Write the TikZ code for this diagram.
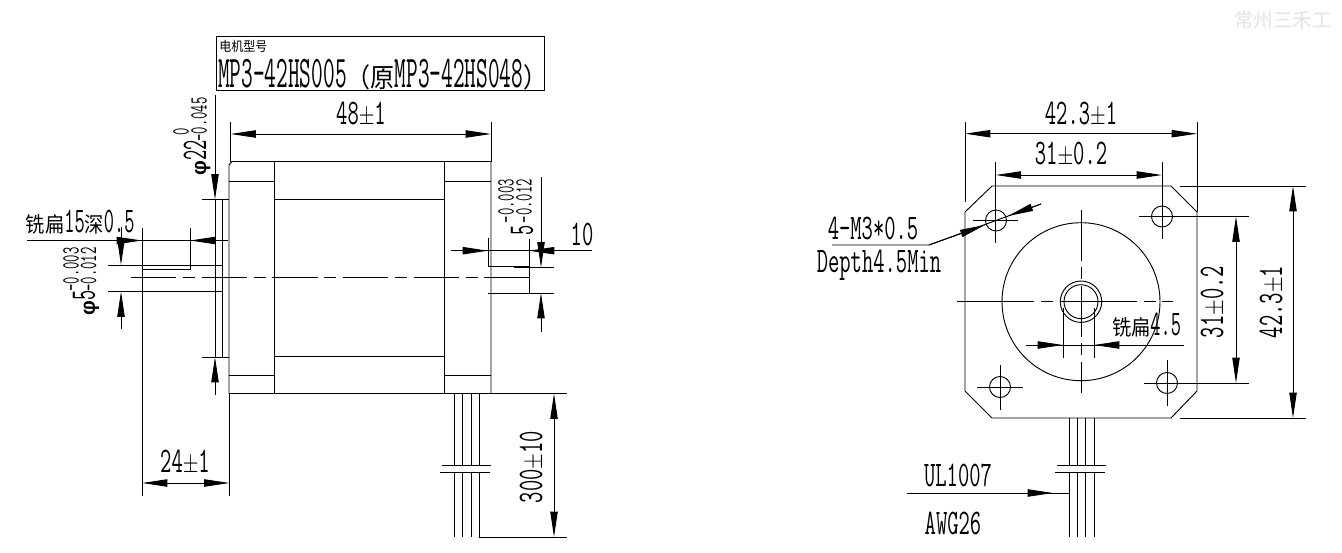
\documentclass[tikz,border=0pt]{standalone}
\usepackage{fontspec}
\usepackage{graphicx}
\usetikzlibrary{arrows.meta}
\newfontfamily\cad[FakeStretch=.61]{Latin Modern Mono}
\newfontfamily\cadn[FakeStretch=.55]{Latin Modern Mono}
\newfontfamily\cadt[FakeStretch=.5]{Latin Modern Mono}
\newfontfamily\cads[FakeStretch=.58]{Latin Modern Mono}
\newfontfamily\cjk[FakeStretch=.9]{Noto Sans CJK SC}
\newfontfamily\wm{Noto Sans CJK SC}
\newfontfamily\ph{Liberation Sans}
\newcommand{\pmm}{\scalebox{1.05}[1.4]{\fontsize{15}{15}\selectfont$\pm$}}
\newcommand{\phs}{{\ph\bfseries\fontsize{15.5}{15.5}\selectfont φ}}
\tikzset{
  ln/.style={line width=.7pt,line cap=butt},
  ctr/.style={ln,dash pattern=on 34pt off 5pt on 9pt off 5pt},
  dm/.style={ln,{Triangle[length=19pt,width=5.5pt]}-{Triangle[length=19pt,width=5.5pt]}},
  dmr/.style={ln,-{Triangle[length=19pt,width=5.5pt]}},
  txt/.style={inner sep=0pt,outer sep=0pt,font=\cad\fontsize{27}{27}\selectfont},
  nar/.style={inner sep=0pt,outer sep=0pt,font=\cadn\fontsize{27}{27}\selectfont},
  sm/.style={inner sep=0pt,outer sep=0pt,font=\cads\fontsize{18.5}{18.5}\selectfont},
  zh/.style={inner sep=0pt,outer sep=0pt,anchor=west,font=\cjk\fontsize{16}{16}\selectfont},
}
\begin{document}
\begin{tikzpicture}[x=.75pt,y=-.75pt]
\useasboundingbox (0,0) rectangle (1342,553);
% watermark
\node[inner sep=0pt,text=black!11,font=\wm\fontsize{14.7}{15}\selectfont] (wm) at (1283,20) {常州三禾工};
% title box
\draw[ln] (216,36) rectangle (544,90);
\node[inner sep=0pt,anchor=west,font=\cjk\fontsize{10}{10}\selectfont] (tA) at (219,46) {电机型号};
\node[inner sep=0pt,anchor=west,font=\cadt\fontsize{34}{34}\selectfont] (tB) at (218,75) {MP3-42HS005{\cjk\fontsize{20}{20}\selectfont（原}MP3-42HS048{\cjk\fontsize{20}{20}\selectfont）}};
% left view body
\draw[ln] (229,165) -- (232,161.5) -- (491,161.5) -- (491,393.5) -- (229,393.5) -- cycle;
\draw[ln] (274.5,161.5)--(274.5,393.5) (444,161.5)--(444,393.5);
\draw[ln] (229,181)--(274.5,181) (444,181)--(491,181) (274.5,199)--(444,199)
  (274.5,356)--(444,356) (229,375)--(274.5,375) (444,375)--(491,375);
\draw[ln] (229,199.5)--(222.5,199.5)--(222.5,357)--(229,357);
\draw[ln] (202,199.5)--(222.5,199.5) (202,357)--(222.5,357);
\draw[ln] (215,199.5)--(215,357);
\draw[dmr] (215,95)--(215,199.5);
\draw[dmr] (215,395)--(215,357);
% shaft
\draw[ln] (108,265)--(222.5,265) (108,291.5)--(222.5,291.5);
\draw[ln] (142,269)--(190,269)--(190,228);
\draw[ln] (142,228)--(142,496) (229.5,393.5)--(229.5,496);
\draw[ctr] (131,277.5)--(535,277.5);
% flat note
\draw[ln] (27,240.5)--(228,240.5);
\draw[dmr] (27,240.5)--(142,240.5);
\draw[dmr] (228,240.5)--(190,240.5);
\node[zh] (n1) at (26,222.5) {铣扁{\cadn\fontsize{27}{27}\selectfont 15}深{\cadn\fontsize{27}{27}\selectfont 0.5}};
% phi5 dim
\draw[dmr] (121,227)--(121,265);
\draw[dmr] (121,329)--(121,291.5);
\node[nar,rotate=90] (p5) at (86,303) {\phs 5};
\node[sm,rotate=90] (p5a) at (88.5,269.5) {-0.012};
\node[sm,rotate=90] (p5b) at (71,269.5) {-0.003};
% 22
\node[nar,rotate=90] (p22) at (197,158) {\phs 22};
\node[sm,rotate=90] (p22a) at (199,119.5) {-0.045};
\node[sm,rotate=90] (p22b) at (181,131.5) {0};
% 48
\draw[dm] (230.5,134)--(491,134);
\draw[ln] (230.5,122)--(230.5,161.5) (491,122)--(491,161.5);
\node[txt] (d48) at (361,114) {48\pmm 1};
% 24
\draw[dm] (142,483)--(229.5,483);
\node[txt] (d24) at (185,462) {24\pmm 1};
% right shaft dims
\draw[ln] (488,238)--(488,266.7)--(529,266.7)
  (529,239)--(529,293)--(488,293);
\draw[ln] (514,267.5)--(554,267.5) (514,293)--(554,293);
\draw[ln] (451,250.7)--(592,250.7);
\draw[dmr] (451,250.7)--(488,250.7);
\draw[dmr] (592,250.7)--(529,250.7);
\draw[dmr] (541,177)--(541,267.5);
\draw[dmr] (541,332)--(541,293);
\node[txt] (d10) at (582,234) {10};
\node[nar,rotate=90] (s5) at (522,230) {5};
\node[sm,rotate=90] (s5a) at (524,201) {-0.012};
\node[sm,rotate=90] (s5b) at (506,201) {-0.003};
% wires left
\draw[ln] (454,393.5)--(454,465) (462.5,393.5)--(462.5,465) (471,393.5)--(471,465) (479,393.5)--(479,465);
\draw[ln] (454,472)--(454,537) (462.5,472)--(462.5,537) (471,472)--(471,537) (479,472)--(479,537)--(567,537);
\draw[ln] (442,465)--(491,465) (440,472)--(490,472);
\draw[ln] (491,393.5)--(567,393.5);
\draw[dm] (554,393.5)--(554,537);
\node[txt,rotate=90] (d300) at (532,467) {300\pmm 10};
% right view outline
\draw[ln] (965,212)--(992,186)--(1171,186)--(1197,212)--(1197,391)--(1171,418)--(992,418)--(965,391)--cycle;
\draw[ln] (965,122)--(965,202) (1197,122)--(1197,212);
\draw[ln] (995.7,162)--(995.7,243) (1162,162)--(1162,239);
\draw[dm] (965,133.7)--(1197,133.7);
\draw[dm] (995.7,175)--(1162,175);
\node[txt] (r42) at (1081,114) {42.3\pmm 1};
\node[txt] (r31) at (1071,154) {31\pmm 0.2};
% holes
\draw[ln] (996,220.5) circle[radius=10.5] (1162,216.5) circle[radius=10.5] (1000,387) circle[radius=10.5] (1167,383) circle[radius=10.5];
\draw[ln] (973,220.5)--(1018,220.5) (1139,216.5)--(1249,216.5)
  (977,387)--(1023,387) (1000,365)--(1000,410)
  (1144,383)--(1249,383) (1167,360)--(1167,406);
% main circles
\draw[ln] (1081,301.7) circle[radius=79];
\draw[ln] (1081,301.7) circle[radius=20.7] (1081,301.7) circle[radius=17];
\draw[ctr,dash pattern=on 58pt off 5pt on 9pt off 5pt] (957,301.7)--(1173,301.7);
\draw[ctr,dash pattern=on 38pt off 5pt on 9pt off 5pt] (1081,210)--(1081,393);
% flat dim
\draw[ln] (1063,308)--(1063,358) (1094,308)--(1094,358);
\draw[ln] (1026,345)--(1184,345);
\draw[dmr] (1026,345)--(1063,345);
\draw[dmr] (1184,345)--(1094,345);
\node[zh] (n2) at (1112,325) {铣扁{\cadn\fontsize{27}{27}\selectfont 4.5}};
% right vertical dims
\draw[dm] (1236,216.5)--(1236,383);
\draw[ln] (1180,186)--(1306,186) (1180,418)--(1306,418);
\draw[dm] (1293,186)--(1293,418);
\node[txt,rotate=90] (v31) at (1213,302) {31\pmm 0.2};
\node[txt,rotate=90] (v42) at (1272,302) {42.3\pmm 1};
% leader
\coordinate (la) at (832,245);
\coordinate (lb) at (929,245);
\coordinate (lc) at (1041,204);
\draw[ln] (la)--(lb)--(lc);
\draw[dmr] (lb)--(985,225);
\draw[dmr] (lc)--(1008,216);
\node[txt] (m1) at (873,228) {4-M3*0.5};
\node[txt] (m2) at (879,265) {Depth4.5Min};
% wires right
\draw[ln] (1069,418)--(1069,465) (1077,418)--(1077,465) (1085.5,418)--(1085.5,465) (1094,418)--(1094,465);
\draw[ln] (1069,472)--(1069,537) (1077,472)--(1077,537) (1085.5,472)--(1085.5,537) (1094,472)--(1094,537);
\draw[ln] (1057,465)--(1106,465) (1055,472)--(1105,472);
\draw[ln] (907,493)--(1069,493);
\draw[dmr] (907,493)--(1053,493);
\node[txt] (ul) at (958,475) {UL1007};
\node[txt] (awg) at (953,523) {AWG26};
\end{tikzpicture}
\end{document}
